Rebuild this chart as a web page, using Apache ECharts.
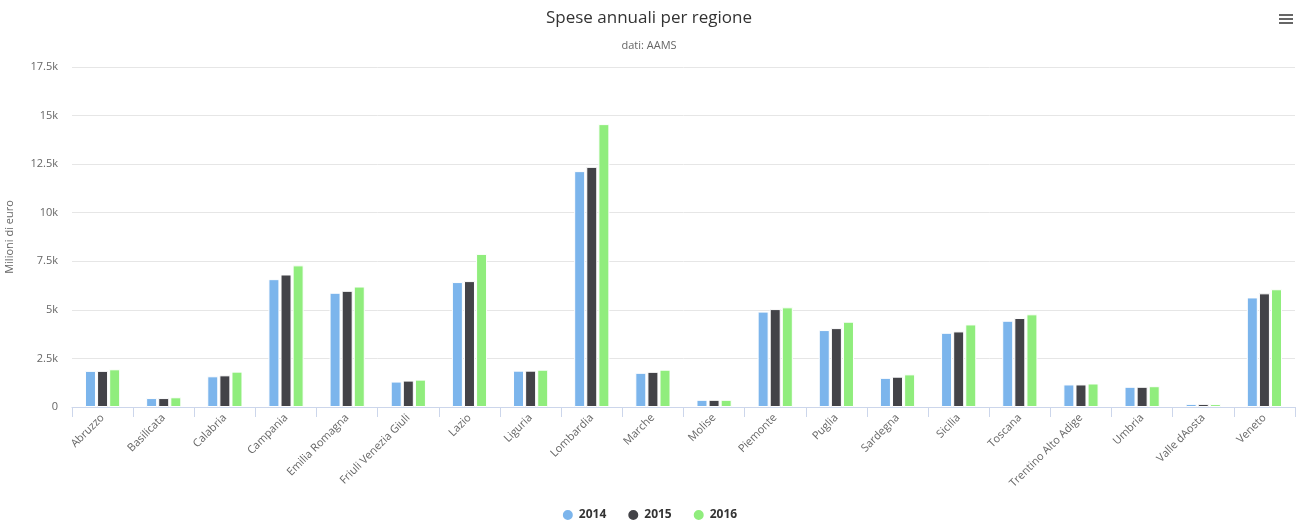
<!DOCTYPE html>
<html>
<head>
  <meta charset="utf-8">
  <title>Spese annuali per regione</title>
  <script src="https://cdn.jsdelivr.net/npm/echarts@6/dist/echarts.min.js"></script>
  <style>
    html, body { margin: 0; padding: 0; background: #fff; }
    #chart { width: 1298px; height: 522px; }
  </style>
</head>
<body>
  <div id="chart"></div>
  <script>
    // regioni (asse x)
    var regioni = ['Abruzzo', 'Basilicata', 'Calabria', 'Campania', 'Emilia Romagna',
      'Friuli Venezia Giuli', 'Lazio', 'Liguria', 'Lombardia', 'Marche', 'Molise',
      'Piemonte', 'Puglia', 'Sardegna', 'Sicilia', 'Toscana', 'Trentino Alto Adige',
      'Umbria', 'Valle dAosta', 'Veneto'];

    // milioni di euro
    var spese2014 = [1860, 460, 1580, 6580, 5880, 1310, 6430, 1870, 12140, 1760, 370,
      4910, 3960, 1500, 3820, 4440, 1160, 1040, 160, 5640];
    var spese2015 = [1860, 460, 1630, 6820, 5980, 1360, 6480, 1870, 12360, 1810, 370,
      5040, 4060, 1560, 3890, 4580, 1160, 1040, 160, 5850];
    var spese2016 = [1940, 500, 1820, 7290, 6200, 1410, 7880, 1920, 14560, 1920, 370,
      5130, 4390, 1680, 4250, 4770, 1210, 1070, 150, 6060];

    var anni = ['2014', '2015', '2016'];
    var colori = ['#7cb5ec', '#434348', '#90ed7d'];
    var valori = [spese2014, spese2015, spese2016];

    var font = '"Lucida Grande", "Open Sans", "DejaVu Sans", sans-serif';

    var chart = echarts.init(document.getElementById('chart'), null, { renderer: 'canvas' });

    var series = anni.map(function (anno, i) {
      return {
        name: anno,
        type: 'bar',
        data: valori[i],
        barWidth: 11,
        barGap: '10%',
        itemStyle: { color: colori[i], borderColor: '#fff', borderWidth: 1 }
      };
    });

    chart.setOption({
      animation: false,
      textStyle: { fontFamily: font },
      color: colori,
      title: [
        {
          text: 'Spese annuali per regione',
          left: 'center',
          top: 5,
          textStyle: { fontSize: 17, fontWeight: 'normal', color: '#333333', fontFamily: font }
        },
        {
          text: 'dati: AAMS',
          left: 'center',
          top: 35,
          textStyle: { fontSize: 11, fontWeight: 'normal', color: '#666666', fontFamily: font }
        }
      ],
      toolbox: {
        right: -10,
        top: -1,
        itemSize: 14,
        iconStyle: { borderColor: '#666', borderWidth: 0, color: '#666' },
        feature: {
          myMenu: {
            show: true,
            title: '',
            icon: 'path://M0,0 L14,0 L14,2 L0,2 Z M0,4 L14,4 L14,6 L0,6 Z M0,8 L14,8 L14,10 L0,10 Z',
            onclick: function () {}
          }
        }
      },
      legend: {
        top: 503,
        left: 'center',
        icon: 'circle',
        itemWidth: 12,
        itemHeight: 12,
        itemGap: 20,
        textStyle: { fontSize: 12, fontWeight: 'bold', color: '#333333', fontFamily: font },
        data: anni
      },
      grid: {
        left: 72,
        right: 3,
        top: 67,
        bottom: 115,
        containLabel: false,
        outerBoundsMode: 'none'
      },
      xAxis: {
        type: 'category',
        data: regioni,
        axisLine: { lineStyle: { color: '#ccd6eb' } },
        axisTick: { show: true, length: 10, lineStyle: { color: '#ccd6eb' } },
        axisLabel: {
          rotate: 45,
          interval: 0,
          margin: 9,
          fontSize: 11,
          color: '#666666',
          fontFamily: font
        }
      },
      yAxis: {
        type: 'value',
        min: 0,
        max: 17500,
        interval: 2500,
        name: 'Milioni di euro',
        nameLocation: 'middle',
        nameGap: 57,
        nameTextStyle: { fontSize: 11, color: '#666666', fontFamily: font },
        axisLine: { show: false },
        axisTick: { show: false },
        splitLine: { lineStyle: { color: '#e6e6e6' } },
        axisLabel: {
          fontSize: 11,
          color: '#666666',
          margin: 14,
          fontFamily: font,
          formatter: function (v) { return v === 0 ? '0' : (v / 1000) + 'k'; }
        }
      },
      series: series
    });
  </script>
</body>
</html>
